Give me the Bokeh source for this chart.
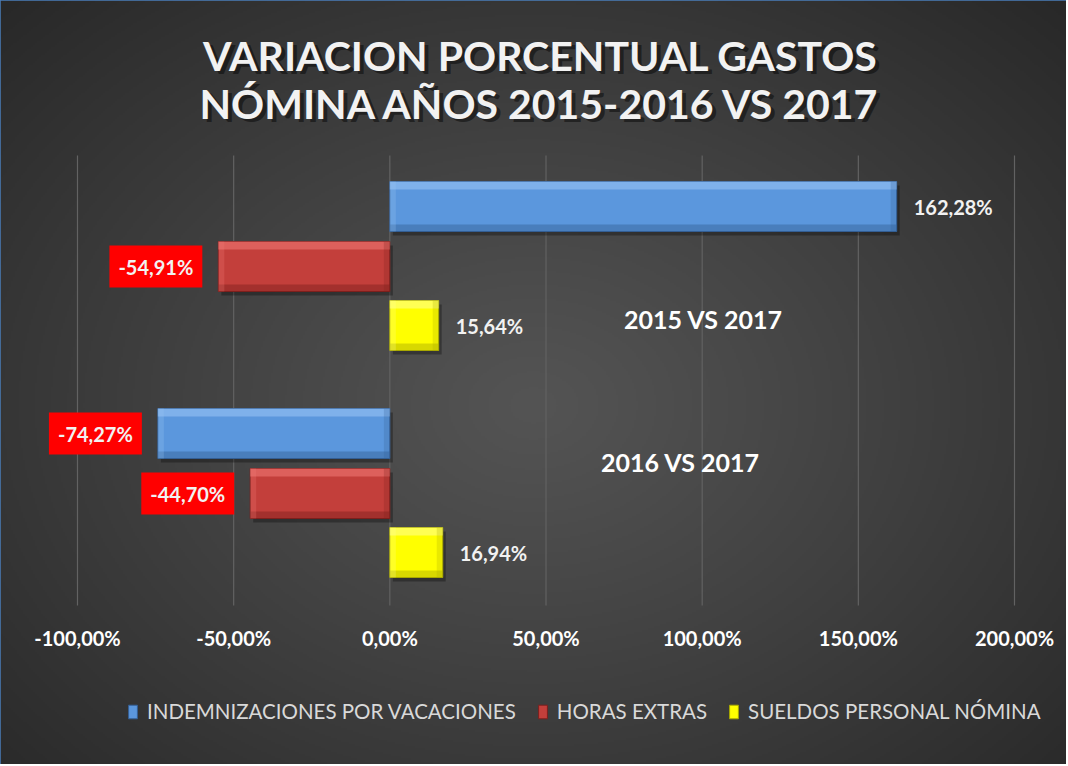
import numpy as np
from bokeh.plotting import figure
from bokeh.models import Label
from bokeh.core.properties import value
from bokeh.embed import file_html
from bokeh.resources import INLINE

# ---------------- data ----------------
categories = ["2015 VS 2017", "2016 VS 2017"]
series_names = ["INDEMNIZACIONES POR VACACIONES", "HORAS EXTRAS", "SUELDOS PERSONAL NÓMINA"]
indemnizaciones = [162.28, -74.27]
horas_extras = [-54.91, -44.70]
sueldos = [15.64, 16.94]
ticks = [-100, -50, 0, 50, 100, 150, 200]
tick_labels = ["-100,00%", "-50,00%", "0,00%", "50,00%", "100,00%", "150,00%", "200,00%"]
title_lines = ["VARIACION PORCENTUAL GASTOS", "NÓMINA AÑOS 2015-2016 VS 2017"]

# ---------------- layout helpers (pixel -> data) ----------------
W, H = 1066, 764
SX = 937 / 300.0           # px per percent
X0 = -100 - 77 / SX
X1 = X0 + W / SX
SY = 227.0                 # px per category
Y_TOP = 1 + 266 / SY
Y_BOT = Y_TOP - H / SY


def dx(px):
    return X0 + px / SX


def dy(py):
    return Y_TOP - py / SY


FONT = value("Lato")

p = figure(width=W, height=H, x_range=(X0, X1), y_range=(Y_BOT, Y_TOP),
           output_backend="svg", toolbar_location=None,
           x_axis_location=None, y_axis_location=None, min_border=0)
p.min_border_left = p.min_border_right = p.min_border_top = p.min_border_bottom = 0
p.grid.visible = False
p.background_fill_color = "#3c3c3c"
p.border_fill_color = "#3c3c3c"
p.outline_line_color = "#4a7ebb"
p.outline_line_width = 3

# radial gradient background (styling only)
nx, ny = 533, 382
gx, gy = np.meshgrid(np.linspace(0, 1, nx), np.linspace(0, 1, ny))
r = np.sqrt(((gx - 0.5) / 0.5) ** 2 + ((gy - 0.47) / 0.53) ** 2) / np.sqrt(2)
r = np.clip(r, 0, 1)
g = (84 - 44 * r ** 1.1).astype(np.uint8)
rgba = np.zeros((ny, nx, 4), dtype=np.uint8)
rgba[..., 0] = g
rgba[..., 1] = g
rgba[..., 2] = g
rgba[..., 3] = 255
img = rgba.view(dtype=np.uint32).reshape((ny, nx))
p.image_rgba(image=[img], x=X0, y=Y_BOT, dw=X1 - X0, dh=Y_TOP - Y_BOT)

# gridlines
p.segment(x0=ticks, y0=[dy(155)] * len(ticks), x1=ticks, y1=[dy(605)] * len(ticks),
          line_color="#626262", line_width=1.2)

# bars
cat_pos = [1, 0]
BAR_H = 50 / SY
offsets = [60 / SY, 0.0, -59 / SY]
series = [indemnizaciones, horas_extras, sueldos]
fills = ["#5b97dd", "#c33f3b", "#ffff00"]
lights = ["#9cc6f5", "#f27c78", "#ffff99"]
darks = ["#345f95", "#7d1f1d", "#a8a800"]

for name, vals, off, fc, lc, dc in zip(series_names, series, offsets, fills, lights, darks):
    ys = [c + off for c in cat_pos]
    lo = [min(0, v) for v in vals]
    hi = [max(0, v) for v in vals]
    # drop shadow
    p.hbar(y=[y - 4 / SY for y in ys], left=[a + 3 / SX for a in lo], right=[b + 3 / SX for b in hi],
           height=BAR_H, fill_color="black", fill_alpha=0.3, line_color=None)
    # main face
    p.hbar(y=ys, left=lo, right=hi, height=BAR_H, fill_color=fc, line_color=dc,
           line_width=1, legend_label=name)
    # bevel highlights
    p.hbar(y=[y + BAR_H / 2 - 4 / SY for y in ys], left=lo, right=hi, height=8 / SY,
           fill_color=lc, fill_alpha=0.55, line_color=None)
    p.hbar(y=[y - BAR_H / 2 + 3.5 / SY for y in ys], left=lo, right=hi, height=7 / SY,
           fill_color=dc, fill_alpha=0.45, line_color=None)
    p.hbar(y=ys, left=[b - 6 / SX for b in hi], right=hi, height=BAR_H,
           fill_color=dc, fill_alpha=0.25, line_color=None)
    p.hbar(y=ys, left=lo, right=[a + 6 / SX for a in lo], height=BAR_H,
           fill_color=lc, fill_alpha=0.25, line_color=None)

    # value labels
    for v, y in zip(vals, ys):
        txt = f"{v:.2f}".replace(".", ",") + "%"
        if v >= 0:
            p.text(x=[v], y=[y], text=[txt], x_offset=17, text_align="left",
                   text_baseline="middle", text_font=FONT, text_font_style="bold",
                   text_font_size="20px", text_color="#f2f2f2")
        else:
            p.add_layout(Label(x=v, y=y, text=txt, x_offset=-16, text_align="right",
                               text_baseline="middle", text_font="Lato", text_font_style="bold",
                               text_font_size="20px", text_color="#f2f2f2",
                               background_fill_color="#ff0000", padding=9))

# category labels (drawn inside the plot as in the original)
cat_px = [(703, 318), (680, 461)]
for c, (px, py) in zip(categories, cat_px):
    p.text(x=[dx(px)], y=[dy(py)], text=[c], text_align="center", text_baseline="middle",
           text_font=FONT, text_font_style="bold", text_font_size="25px", text_color="white")

# x tick labels
p.text(x=ticks, y=[dy(637)] * len(ticks), text=tick_labels, text_align="center",
       text_baseline="middle", text_font=FONT, text_font_style="bold",
       text_font_size="20px", text_color="white")

# title with shadow
for line, py in zip(title_lines, [55, 103]):
    p.text(x=[dx(542)], y=[dy(py)], text=[line], x_offset=2, y_offset=3, text_align="center",
           text_baseline="middle", text_font=FONT, text_font_style="bold",
           text_font_size="41px", text_color="black", text_alpha=0.45)
    p.text(x=[dx(540)], y=[dy(py)], text=[line], text_align="center",
           text_baseline="middle", text_font=FONT, text_font_style="bold",
           text_font_size="41px", text_color="#f2f2f2")

# legend
lg = p.legend[0]
lg.orientation = "horizontal"
lg.location = (127, 41)
lg.background_fill_alpha = 0
lg.border_line_alpha = 0
lg.label_text_color = "#d9d9d9"
lg.label_text_font = "Lato"
lg.label_text_font_size = "20.5px"
lg.glyph_width = 11
lg.glyph_height = 17
lg.label_standoff = 9
lg.spacing = 21
lg.padding = 0
lg.margin = 0

open("out.html", "w").write(file_html(p, INLINE))
